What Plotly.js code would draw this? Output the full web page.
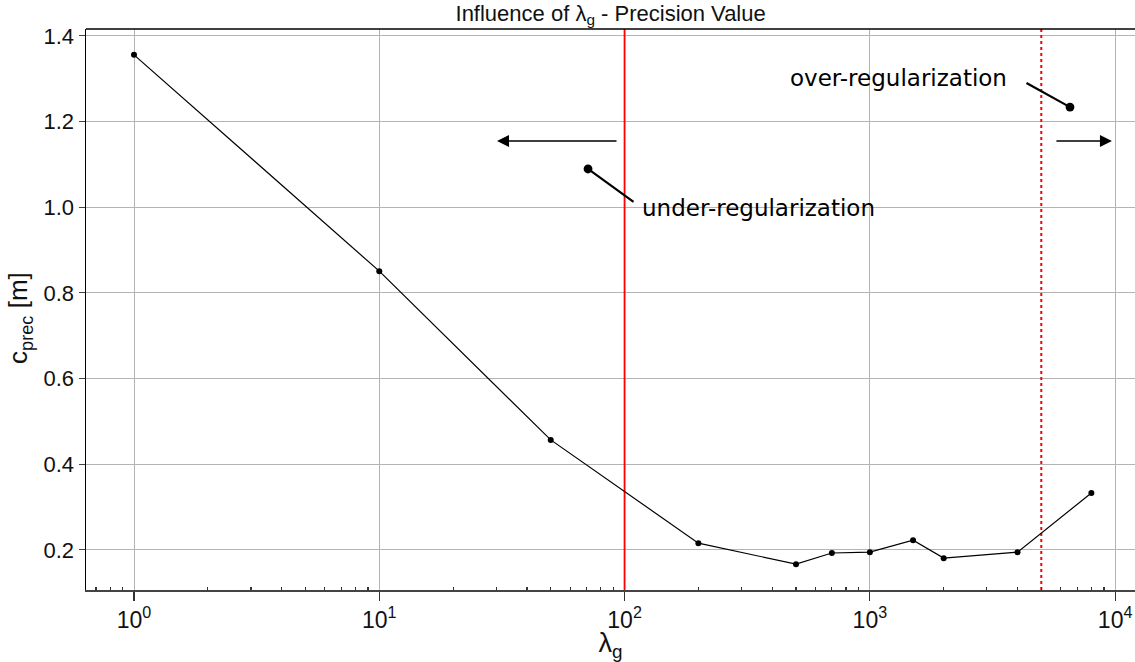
<!DOCTYPE html>
<html>
<head>
<meta charset="utf-8">
<script src="https://cdn.plot.ly/plotly-3.0.1.min.js"></script>
<style>html,body{margin:0;padding:0;background:#fff}#chart{width:1135px;height:662px}</style>
</head>
<body>
<div id="chart"></div>
<script>
// Data
const lambdaG = [1, 10, 50, 200, 500, 700, 1000, 1500, 2000, 4000, 8000];
const cPrec = [1.356, 0.851, 0.457, 0.216, 0.167, 0.193, 0.195, 0.223, 0.181, 0.195, 0.333];
const boundaryLow = 100;
const boundaryHigh = 5000;
const xTickVals = [1, 10, 100, 1000, 10000];
const xTickText = ['10<sup>0</sup>', '10<sup>1</sup>', '10<sup>2</sup>', '10<sup>3</sup>', '10<sup>4</sup>'];
const yTickVals = [0.2, 0.4, 0.6, 0.8, 1.0, 1.2, 1.4];
const yTickText = ['0.2', '0.4', '0.6', '0.8', '1.0', '1.2', '1.4'];

const yRange = [0.1066, 1.4163];
const xRangeLog = [-0.1957, 4.081];

const minorVals = [];
for (let k = -1; k <= 4; k++) for (let d = 2; d <= 9; d++) minorVals.push(d * Math.pow(10, k));

const traces = [
  {x: [boundaryLow, boundaryLow], y: yRange, mode: 'lines', line: {color: '#ff0000', width: 1.8}, hoverinfo: 'skip', showlegend: false},
  {x: [boundaryHigh, boundaryHigh], y: yRange, mode: 'lines', line: {color: '#ff0000', width: 2, dash: 'dot'}, hoverinfo: 'skip', showlegend: false},
  {x: lambdaG, y: cPrec, mode: 'lines+markers', line: {color: '#000', width: 1.2}, marker: {color: '#000', size: 6}, showlegend: false}
];

const annFont = {family: 'DejaVu Sans', size: 23, color: '#000'};
const layout = {
  width: 1135, height: 662,
  margin: {l: 86, r: 0, t: 29, b: 72},
  paper_bgcolor: '#fff', plot_bgcolor: '#fff',
  title: {text: 'Influence of λ<sub>g</sub> - Precision Value', font: {family: 'Liberation Sans', size: 22, color: '#111'}, x: 0.538, xanchor: 'center', y: 0.992, yanchor: 'top'},
  xaxis: {
    type: 'log', range: xRangeLog,
    tickvals: xTickVals, ticktext: xTickText,
    ticks: 'outside', ticklen: 9, tickcolor: '#333', tickwidth: 1.2,
    minor: {tickvals: minorVals, ticks: 'inside', ticklen: 3, tickcolor: '#333', showgrid: false},
    showgrid: true, gridcolor: '#b4b4b4', gridwidth: 1,
    showline: true, linecolor: '#444', linewidth: 1.5, mirror: false,
    zeroline: false,
    tickfont: {family: 'Liberation Sans', size: 23, color: '#111'},
    title: {text: 'λ<sub>g</sub>', font: {family: 'Liberation Sans', size: 27, color: '#111'}, standoff: 4}
  },
  yaxis: {
    range: yRange,
    tickvals: yTickVals, ticktext: yTickText,
    ticks: 'outside', ticklen: 6, tickcolor: '#444',
    showgrid: true, gridcolor: '#b4b4b4', gridwidth: 1,
    showline: true, linecolor: '#000', linewidth: 1.5,
    zeroline: false,
    tickfont: {family: 'Liberation Sans', size: 22, color: '#111'}
  },
  shapes: [
    {type: 'line', xref: 'paper', yref: 'paper', x0: 0, x1: 1, y0: 1, y1: 1, line: {color: '#000', width: 1.5}}
  ],
  annotations: [
    {x: -0.0629, y: 0.485, xref: 'paper', yref: 'paper', text: 'c<sub>prec</sub> [m]', textangle: -90, showarrow: false, xanchor: 'center', yanchor: 'middle', font: {family: 'Liberation Sans', size: 26, color: '#111'}},
    {x: 1.851, y: 1.0895, xref: 'x', yref: 'y', ax: 47, ay: 34, text: '', showarrow: true, arrowhead: 6, arrowsize: 1, arrowwidth: 2.2, arrowcolor: '#000'},
    {x: 2.062, y: 0.998, xref: 'x', yref: 'y', text: 'under-regularization', showarrow: false, xanchor: 'left', yanchor: 'middle', font: annFont},
    {x: 3.816, y: 1.234, xref: 'x', yref: 'y', ax: -45, ay: -25, text: '', showarrow: true, arrowhead: 6, arrowsize: 1, arrowwidth: 2.2, arrowcolor: '#000'},
    {x: 2.668, y: 1.302, xref: 'x', yref: 'y', text: 'over-regularization', showarrow: false, xanchor: 'left', yanchor: 'middle', font: annFont},
    {x: 1.480, y: 1.155, xref: 'x', yref: 'y', ax: 121, ay: 0, text: '', showarrow: true, arrowhead: 2, arrowsize: 1.6, arrowwidth: 1.5, arrowcolor: '#000'},
    {x: 3.987, y: 1.155, xref: 'x', yref: 'y', ax: -57, ay: 0, text: '', showarrow: true, arrowhead: 2, arrowsize: 1.6, arrowwidth: 1.5, arrowcolor: '#000'}
  ]
};

Plotly.newPlot('chart', traces, layout, {displayModeBar: false, staticPlot: true});
</script>
</body>
</html>
